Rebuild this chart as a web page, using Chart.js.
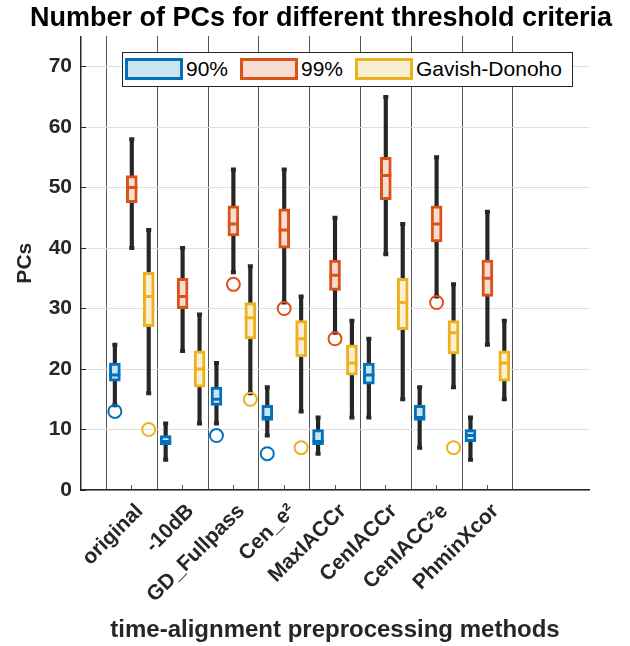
<!DOCTYPE html>
<html>
<head>
<meta charset="utf-8">
<title>Number of PCs for different threshold criteria</title>
<script src="https://cdn.jsdelivr.net/npm/chart.js@4.4.0/dist/chart.umd.min.js"></script>
<style>
  body { margin: 0; background: #fff; }
  #wrap { position: relative; width: 630px; height: 646px; }
  #legend { position: absolute; left: 122px; top: 52px; width: 449px; height: 33px;
            border: 1px solid #262626; background: #fff; color: #000;
            font: 21px "Liberation Sans", Arial, sans-serif; }
  .sw { position: absolute; top: 5px; width: 52px; height: 16px; border: 3px solid; }
  .lb { position: absolute; top: 4px; line-height: 24px; white-space: nowrap; }
</style>
</head>
<body>
<div id="wrap">
  <canvas id="myChart" width="630" height="646"></canvas>
  <div id="legend"></div>
</div>
<script>
var methods = ['original', '-10dB', 'GD_Fullpass', 'Cen_e\u00b2', 'MaxIACCr', 'CenIACCr', 'CenIACC\u00b2e', 'PhminXcor'];
var seriesNames = ['90%', '99%', 'Gavish-Donoho'];
var yTicks = [0, 10, 20, 30, 40, 50, 60, 70];

// 90% threshold
var low90  = [14, 5, 11, 9, 6, 12, 7, 5];
var q1_90  = [18, 7.5, 14, 11.5, 7.5, 17.5, 11.5, 8];
var med90  = [19, 8, 15, 12, 8, 19, 12, 9];
var q3_90  = [21, 9, 17, 14, 10, 21, 14, 10];
var high90 = [24, 11, 21, 17, 12, 25, 17, 12];
var out90  = [13, null, 9, 6, null, null, null, null];

// 99% threshold
var low99  = [40, 23, 36, 31, 26, 39, 32, 24];
var q1_99  = [47.5, 30, 42, 40, 33, 48, 41, 32];
var med99  = [50, 32, 44, 43, 35.5, 52, 44, 35];
var q3_99  = [52, 35, 47, 46.5, 38, 55, 47, 38];
var high99 = [58, 40, 53, 53, 45, 65, 55, 46];
var out99  = [null, null, 34, 30, 25, null, 31, null];

// Gavish-Donoho
var lowGD  = [16, 11, 16, 13, 12, 15, 17, 15];
var q1_GD  = [27, 17, 25, 22, 19, 26.5, 22.5, 18];
var medGD  = [32, 20, 28.5, 25, 21, 31, 26, 21];
var q3_GD  = [36, 23, 31, 28, 24, 35, 28, 23];
var highGD = [43, 29, 37, 32, 28, 44, 34, 28];
var outGD  = [10, null, 15, 7, null, null, 7, null];

var separators = [0.5, 1.5, 2.5, 3.5, 4.5, 5.5, 6.5, 7.5, 8.5];

var FONT = "'Liberation Sans', Arial, sans-serif";
var colors = ['#0072BD', '#D95319', '#EDB120'];
var fills = ['#cce3f0', '#f7ddd1', '#fbefd2'];
var offsets = [-1 / 3, 0, 1 / 3];
var stats = [
  [low90, q1_90, med90, q3_90, high90, out90],
  [low99, q1_99, med99, q3_99, high99, out99],
  [lowGD, q1_GD, medGD, q3_GD, highGD, outGD]
];

var datasets = [];
for (var s = 0; s < 3; s++) {
  var st = stats[s];
  var whisk = [], caps = [], boxes = [], meds = [], outs = [];
  for (var i = 0; i < methods.length; i++) {
    var x = i + 1 + offsets[s];
    whisk.push({x: x, y: [st[0][i], st[4][i]]});
    caps.push({x: x, y: st[0][i]});
    caps.push({x: x, y: st[4][i]});
    boxes.push({x: x, y: [st[1][i], st[3][i]]});
    meds.push({x: x, y: st[2][i]});
    if (st[5][i] !== null) outs.push({x: x, y: st[5][i]});
  }
  datasets.push({
    type: 'bar', data: whisk, backgroundColor: '#262626', borderWidth: 0,
    barThickness: 3.5, grouped: false, order: 4, xAxisID: 'x', yAxisID: 'y'
  });
  datasets.push({
    type: 'scatter', data: caps, pointStyle: 'line', pointRadius: 2.5,
    borderWidth: 4, borderColor: '#262626', order: 3, xAxisID: 'x', yAxisID: 'y'
  });
  datasets.push({
    type: 'bar', label: seriesNames[s], data: boxes, backgroundColor: fills[s],
    borderColor: colors[s], borderWidth: 3, borderSkipped: false,
    barThickness: 11, grouped: false, order: 2, xAxisID: 'x', yAxisID: 'y'
  });
  datasets.push({
    type: 'scatter', data: meds, pointStyle: 'line', pointRadius: 5.5,
    borderWidth: 3, borderColor: colors[s], order: 1, xAxisID: 'x', yAxisID: 'y'
  });
  datasets.push({
    type: 'scatter', data: outs, pointStyle: 'circle', pointRadius: 6.5,
    borderWidth: 2, borderColor: colors[s], backgroundColor: 'rgba(0,0,0,0)',
    order: 0, xAxisID: 'x', yAxisID: 'y'
  });
}

var myChart = new Chart(document.getElementById('myChart').getContext('2d'), {
  type: 'bar',
  data: { datasets: datasets },
  options: {
    responsive: false,
    animation: false,
    events: [],
    layout: { padding: { left: 12, right: 0, top: 0, bottom: 0 } },
    plugins: {
      legend: { display: false },
      tooltip: { enabled: false },
      title: {
        display: true,
        text: 'Number of PCs for different threshold criteria',
        color: '#000',
        font: { family: FONT, size: 27, weight: 'bold' },
        padding: { top: 2, bottom: 2 }
      }
    },
    scales: {
      x: {
        type: 'linear', position: 'bottom', min: 0, max: 10, offset: false,
        afterBuildTicks: function(axis) {
          axis.ticks = methods.map(function(m, i) { return {value: i + 1}; });
        },
        afterFit: function(axis) { axis.height = 156; },
        ticks: {
          autoSkip: false, maxRotation: 45, minRotation: 45, padding: 14, labelOffset: 8,
          color: '#262626', font: { family: FONT, size: 21, weight: 'bold' },
          callback: function(v) { return methods[Math.round(v) - 1]; }
        },
        // short inward tick marks only
        grid: { display: true, offset: false, drawOnChartArea: false, drawTicks: true,
                tickLength: -5, tickColor: '#555555', tickWidth: 1 },
        border: { color: '#262626', width: 1.5 },
        title: {
          display: true, text: 'time-alignment preprocessing methods', color: '#262626',
          font: { family: FONT, size: 24, weight: 'bold' }, padding: { top: 0, bottom: 1 }
        }
      },
      xSep: {
        type: 'linear', position: 'top', min: 0, max: 10, offset: false,
        afterBuildTicks: function(axis) {
          axis.ticks = separators.map(function(v) { return {value: v}; });
        },
        afterFit: function(axis) { axis.height = 0; },
        ticks: { display: false },
        grid: { offset: false, color: '#555555', lineWidth: 1, drawTicks: false },
        border: { display: false }
      },
      y: {
        min: 0, max: 75,
        afterBuildTicks: function(axis) {
          axis.ticks = yTicks.map(function(v) { return {value: v}; });
        },
        afterFit: function(axis) { axis.width = 69; },
        ticks: { padding: 14, color: '#262626', font: { family: FONT, size: 21, weight: 'bold' } },
        grid: { color: '#dedede', drawTicks: true, tickLength: -5, tickColor: '#262626' },
        border: { color: '#262626', width: 1.5 },
        title: {
          display: true, text: 'PCs', color: '#262626',
          font: { family: FONT, size: 21, weight: 'bold' }, padding: { top: 1, bottom: 0 }
        }
      },
      yR: {
        type: 'linear', position: 'right', min: 0, max: 1,
        afterFit: function(axis) { axis.width = 41; },
        ticks: { display: false },
        grid: { display: false },
        border: { display: false }
      }
    }
  }
});

// legend box drawn as html on top of the plot area
var legendPos = [[2, 63], [117, 178], [232, 293]];
var legend = document.getElementById('legend');
for (var k = 0; k < seriesNames.length; k++) {
  var sw = document.createElement('div');
  sw.className = 'sw';
  sw.style.left = legendPos[k][0] + 'px';
  sw.style.borderColor = colors[k];
  sw.style.background = fills[k];
  legend.appendChild(sw);
  var lb = document.createElement('span');
  lb.className = 'lb';
  lb.style.left = legendPos[k][1] + 'px';
  lb.textContent = seriesNames[k];
  legend.appendChild(lb);
}
</script>
</body>
</html>
